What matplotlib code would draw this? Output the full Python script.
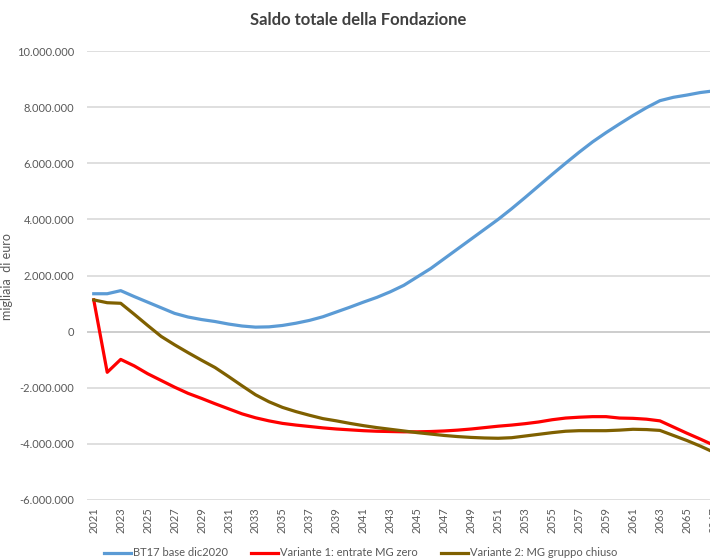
import matplotlib
matplotlib.use("Agg")
import matplotlib.pyplot as plt
from matplotlib.ticker import FuncFormatter

plt.rcParams['font.family'] = ['Lato', 'DejaVu Sans']

years = list(range(2021, 2068))

bt17_base = [1.35, 1.35, 1.46, 1.25, 1.05, 0.85, 0.65, 0.52, 0.43, 0.36,
             0.27, 0.20, 0.16, 0.17, 0.22, 0.30, 0.40, 0.53, 0.70, 0.87,
             1.05, 1.22, 1.42, 1.65, 1.95, 2.25, 2.60, 2.95, 3.30, 3.65,
             4.00, 4.38, 4.78, 5.19, 5.60, 6.00, 6.39, 6.76, 7.09, 7.40,
             7.70, 7.98, 8.23, 8.35, 8.43, 8.52, 8.58]

variante1 = [1.13, -1.45, -0.99, -1.22, -1.50, -1.74, -1.98, -2.20, -2.38, -2.57,
             -2.75, -2.93, -3.07, -3.18, -3.27, -3.33, -3.38, -3.43, -3.47, -3.50,
             -3.53, -3.55, -3.56, -3.57, -3.57, -3.56, -3.54, -3.51, -3.47, -3.42,
             -3.37, -3.33, -3.28, -3.22, -3.14, -3.08, -3.05, -3.03, -3.03, -3.08,
             -3.09, -3.12, -3.18, -3.40, -3.62, -3.83, -4.05]

variante2 = [1.13, 1.03, 1.01, 0.62, 0.22, -0.17, -0.47, -0.75, -1.02, -1.28,
             -1.60, -1.93, -2.25, -2.50, -2.70, -2.85, -2.98, -3.10, -3.18, -3.27,
             -3.35, -3.42, -3.48, -3.54, -3.60, -3.65, -3.70, -3.74, -3.77, -3.79,
             -3.80, -3.78, -3.72, -3.66, -3.60, -3.55, -3.53, -3.53, -3.53, -3.51,
             -3.48, -3.49, -3.52, -3.70, -3.88, -4.08, -4.30]

series_labels = ["BT17 base dic2020", "Variante 1: entrate MG zero",
                 "Variante 2: MG gruppo chiuso"]
series_colors = ["#5B9BD5", "#FF0000", "#7F6000"]
yticks = [-6e6, -4e6, -2e6, 0, 2e6, 4e6, 6e6, 8e6, 10e6]

fig = plt.figure(figsize=(7.1, 5.6), dpi=100)
ax = fig.add_axes([87/710, 60/560, 633.6/710, 449/560])

for vals, lab, col in zip([bt17_base, variante1, variante2], series_labels, series_colors):
    ax.plot(years, [v * 1e6 for v in vals], color=col, lw=2.3, label=lab,
            solid_joinstyle='round', zorder=3)

ax.set_xlim(2020.5, 2067.5)
ax.set_ylim(-6e6, 10e6)
ax.set_yticks(yticks)
ax.yaxis.set_major_formatter(FuncFormatter(lambda v, p: f"{int(round(v)):,}".replace(",", ".")))
ax.grid(axis='y', color='#d9d9d9', lw=1.2, zorder=0)
ax.axhline(0, color='#868686', lw=1.2, zorder=1)
ax.set_xticks(years[::2])
ax.set_xticklabels([str(y) for y in years[::2]], rotation=90)
ax.tick_params(axis='both', length=0, labelsize=8, colors='#595959')
ax.tick_params(axis='y', pad=9)
ax.tick_params(axis='x', pad=5)
for s in ax.spines.values():
    s.set_visible(False)

ax.set_ylabel("migliaia  di euro", fontsize=9, color='#595959')
ax.yaxis.set_label_coords((13 - 87) / 633.6, (560 - 277 - 60) / 449)

fig.text(358/710, 1 - 20/560, "Saldo totale della Fondazione", ha='center', va='center',
         fontsize=12, fontweight='bold', color='#404040')

fig.legend(loc='center', bbox_to_anchor=(361/710, 1 - 553/560), ncol=3, frameon=False,
           fontsize=8, handlelength=2.4, columnspacing=2.1, handletextpad=0.2,
           labelcolor='#595959')

fig.savefig("out.png", dpi=100)
